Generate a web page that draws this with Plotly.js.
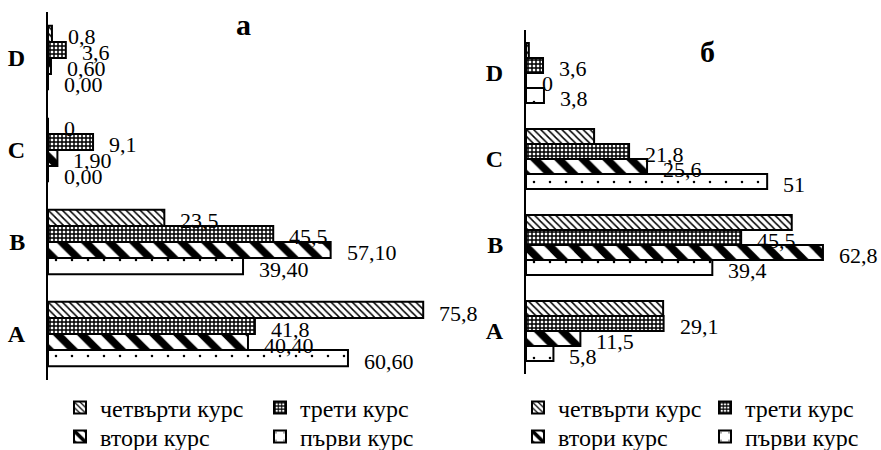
<!DOCTYPE html>
<html><head><meta charset="utf-8">
<script src="https://cdn.plot.ly/plotly-3.0.1.min.js"></script>
<style>html,body{margin:0;padding:0;background:#fff}#chart{width:881px;height:450px}</style>
</head><body><div id="chart"></div>
<script>
// ---- data ----
const categories = ['A', 'B', 'C', 'D'];
const seriesNames = ['първи курс', 'втори курс', 'трети курс', 'четвърти курс'];

// panel "а"
const a_first  = [60.6, 39.4, 0.0, 0.0];
const a_second = [40.4, 57.1, 1.9, 0.6];
const a_third  = [41.8, 45.5, 9.1, 3.6];
const a_fourth = [75.8, 23.5, 0.0, 0.8];
const a_first_labels  = ['60,60', '39,40', '0,00', '0,00'];
const a_second_labels = ['40,40', '57,10', '1,90', '0,60'];
const a_third_labels  = ['41,8', '45,5', '9,1', '3,6'];
const a_fourth_labels = ['75,8', '23,5', '0', '0,8'];

// panel "б"
const b_first  = [5.8, 39.4, 51.0, 3.8];
const b_second = [11.5, 62.8, 25.6, 0.0];
const b_third  = [29.1, 45.5, 21.8, 3.6];
const b_fourth = [29.0, 56.2, 14.4, 0.6];
const b_first_labels  = ['5,8', '39,4', '51', '3,8'];
const b_second_labels = ['11,5', '62,8', '25,6', '0'];
const b_third_labels  = ['29,1', '45,5', '21,8', '3,6'];
const b_fourth_labels = ['', '', '', ''];

const panelTitles = ['а', 'б'];

// ---- styles ----
const FONT = 'Liberation Serif';
const patterns = [
  {shape: '.',  size: 16, solidity: 0.02, fgcolor: '#000', bgcolor: '#fff'},
  {shape: '\\', size: 17, solidity: 0.45, fgcolor: '#000', bgcolor: '#fff'},
  {shape: '+',  size: 4,  solidity: 0.6,  fgcolor: '#000', bgcolor: '#fff'},
  {shape: '\\', size: 5,  solidity: 0.3,  fgcolor: '#000', bgcolor: '#fff'}
];

const panels = [
  {xa: 'x', ya: 'y', series: [a_first, a_second, a_third, a_fourth],
   labels: [a_first_labels, a_second_labels, a_third_labels, a_fourth_labels],
   barpx: 16, legends: ['legend2', 'legend2', 'legend', 'legend']},
  {xa: 'x2', ya: 'y2', series: [b_first, b_second, b_third, b_fourth],
   labels: [b_first_labels, b_second_labels, b_third_labels, b_fourth_labels],
   barpx: 15.2, legends: ['legend4', 'legend4', 'legend3', 'legend3']}
];

const traces = [];
const annotations = [];
panels.forEach(p => {
  p.series.forEach((vals, i) => {
    traces.push({
      type: 'bar', orientation: 'h', x: vals, y: categories, name: seriesNames[i],
      xaxis: p.xa, yaxis: p.ya, legend: p.legends[i], hoverinfo: 'skip',
      marker: {color: '#fff', line: {color: '#000', width: 2}, pattern: patterns[i]}
    });
    vals.forEach((v, k) => {
      const t = p.labels[i][k];
      if (!t) return;
      annotations.push({
        xref: p.xa, yref: p.ya, x: v, y: categories[k], text: t, showarrow: false,
        xanchor: 'left', yanchor: 'middle', xshift: 14, yshift: (i - 1.5) * p.barpx - 3,
        font: {family: FONT, size: 22, color: '#000'}
      });
    });
  });
});

annotations.push({xref: 'paper', yref: 'paper', x: 243 / 881, y: 1 - 24 / 450, text: panelTitles[0],
  showarrow: false, xanchor: 'center', yanchor: 'middle', font: {family: FONT, size: 30, weight: 'bold', color: '#000'}});
annotations.push({xref: 'paper', yref: 'paper', x: 707 / 881, y: 1 - 52 / 450, text: panelTitles[1],
  showarrow: false, xanchor: 'center', yanchor: 'middle', font: {family: FONT, size: 30, weight: 'bold', color: '#000'}});

const yAxisCommon = {
  type: 'category', showline: true, linecolor: '#000', linewidth: 2, ticks: '', showgrid: false,
  zeroline: false, fixedrange: true, automargin: false,
  tickfont: {family: FONT, size: 24, weight: 'bold', color: '#000'},
  ticklabelstandoff: 16
};
const legendCommon = {
  orientation: 'h', traceorder: 'reversed', xanchor: 'left', yanchor: 'middle',
  font: {family: FONT, size: 24, color: '#000'}, bgcolor: 'rgba(0,0,0,0)', itemwidth: 30,
  itemclick: false, itemdoubleclick: false
};

const layout = {
  width: 881, height: 450, margin: {l: 0, r: 0, t: 0, b: 0, autoexpand: false},
  paper_bgcolor: '#fff', plot_bgcolor: 'rgba(0,0,0,0)',
  font: {family: FONT, color: '#000'},
  barmode: 'group', bargap: 0.3, bargroupgap: 0,
  xaxis: {domain: [48 / 881, 444 / 881], range: [0, 80], visible: false, anchor: 'y', fixedrange: true},
  yaxis: Object.assign({domain: [1 - 380 / 450, 1 - 12 / 450], anchor: 'x'}, yAxisCommon),
  xaxis2: {domain: [526 / 881, 857 / 881], range: [0, 70], visible: false, anchor: 'y2', fixedrange: true},
  yaxis2: Object.assign({domain: [1 - 374 / 450, 1 - 30 / 450], anchor: 'x2'}, yAxisCommon),
  legend:  Object.assign({x: 60 / 881,  y: 1 - 408 / 450, entrywidth: 155}, legendCommon),
  legend2: Object.assign({x: 60 / 881,  y: 1 - 437 / 450, entrywidth: 155}, legendCommon),
  legend3: Object.assign({x: 518 / 881, y: 1 - 408 / 450, entrywidth: 142}, legendCommon),
  legend4: Object.assign({x: 518 / 881, y: 1 - 437 / 450, entrywidth: 142}, legendCommon),
  annotations: annotations,
  showlegend: true
};

Plotly.newPlot('chart', traces, layout, {displayModeBar: false, staticPlot: true});
</script>
</body></html>
